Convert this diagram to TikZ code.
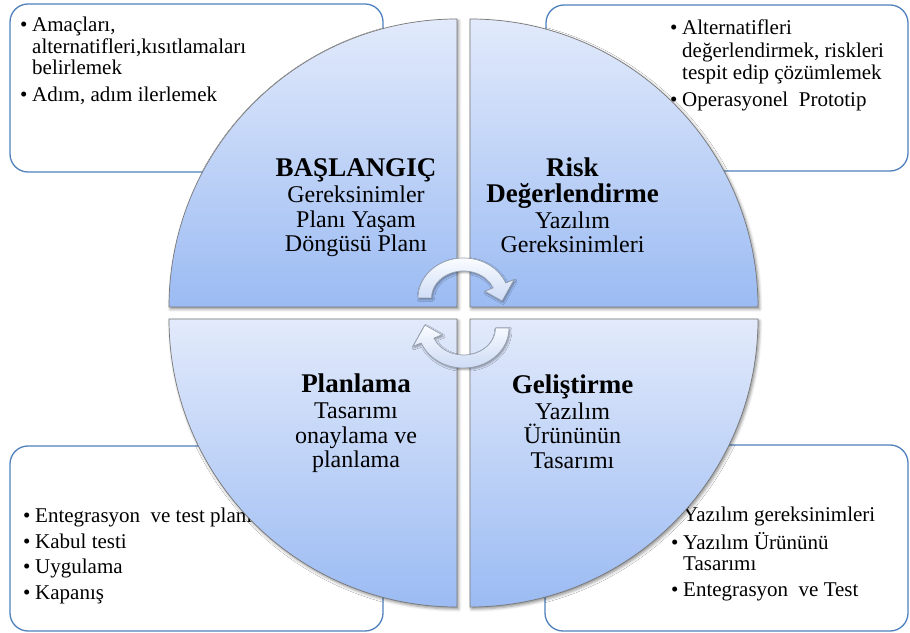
\documentclass[tikz,border=0pt]{standalone}
\usepackage{fontspec}
\setmainfont{Liberation Serif}
\usetikzlibrary{shadows.blur}

\definecolor{boxline}{RGB}{79,129,189}
\definecolor{quadtop}{RGB}{226,234,251}
\definecolor{quadbot}{RGB}{155,187,243}
\definecolor{quadedge}{RGB}{120,120,120}
\definecolor{arrowtop}{RGB}{250,252,255}
\definecolor{arrowbot}{RGB}{205,219,245}
\definecolor{arrowedge}{RGB}{150,160,175}

% bullet and hanging indent for the note lists
\newcommand\itm{\makebox[12pt][l]{•}}
\newcommand\cnt{\hspace*{12pt}}
% bold heading inside a quadrant
\newcommand\qhead[1]{{\fontsize{27}{27}\selectfont\bfseries #1}}

% multi-line nodes are placed by the baseline of their last line
\tikzset{
  notebox/.style={draw=boxline, line width=1.3pt, rounded corners=18pt, fill=white},
  notes/.style={anchor=base west, align=left, inner sep=0pt},
  quadrant/.style={top color=quadtop, bottom color=quadbot, draw=quadedge, line width=0.7pt,
    blur shadow={shadow xshift=1.5pt, shadow yshift=-2pt, shadow blur radius=3pt, shadow opacity=45}},
  qtext/.style={anchor=base, align=center, inner sep=0pt, font=\fontsize{24}{24.6}\selectfont},
  cyclearrow/.style={top color=arrowtop, bottom color=arrowbot, draw=arrowedge, line width=0.7pt,
    blur shadow={shadow xshift=1pt, shadow yshift=-1.5pt, shadow blur radius=2pt, shadow opacity=40}},
}

\begin{document}
\begin{tikzpicture}[x=1pt,y=1pt]
\useasboundingbox (0,0) rectangle (910,632);

% note boxes behind the circle
\draw[notebox] (10,460) rectangle (383,628);
\draw[notebox] (546,461) rectangle (908,627);
\draw[notebox] (10,1) rectangle (383,186);
\draw[notebox] (545,1) rectangle (908,187);

\node[notes, font=\fontsize{21}{21.7}\selectfont] (notetl) at (20,530.3)
  {\itm Amaçları,\\ \cnt alternatifleri,kısıtlamaları\\ \cnt belirlemek\\[5pt] \itm Adım, adım ilerlemek};
\node[notes, font=\fontsize{21}{22.8}\selectfont] (notetr) at (670,525.3)
  {\itm Alternatifleri\\ \cnt değerlendirmek, riskleri\\ \cnt tespit edip çözümlemek\\[4pt] \itm Operasyonel\ \ Prototip};
\node[notes, font=\fontsize{21}{25.5}\selectfont] (notebl) at (23,33)
  {\itm Entegrasyon\ \ ve\ test planı\\ \itm Kabul testi\\ \itm Uygulama\\ \itm Kapanış};
\node[notes, font=\fontsize{21}{21}\selectfont] (notebr) at (671,35.3)
  {\itm Yazılım gereksinimleri\\[5.3pt] \itm Yazılım Ürününü\\ \cnt Tasarımı\\[5.7pt] \itm Entegrasyon\ \ ve\ Test};

% the four quadrants of the cycle
\path[quadrant] (457,325) -- ++(-288,0) arc[start angle=180, end angle=90, radius=288pt] -- cycle;
\path[quadrant] (470,325) -- ++(0,288) arc[start angle=90, end angle=0, radius=288pt] -- cycle;
\path[quadrant] (457,313) -- ++(-288,0) arc[start angle=180, end angle=270, radius=288pt] -- cycle;
\path[quadrant] (470,313) -- ++(0,-288) arc[start angle=270, end angle=360, radius=288pt] -- cycle;

\node[qtext] (qtl) at (356,380)
  {\qhead{BAŞLANGIÇ}\\[1.5pt] Gereksinimler\\ Planı Yaşam\\ Döngüsü Planı};
\node[qtext] (qtr) at (572.5,379)
  {\qhead{Risk}\\[1pt] \qhead{Değerlendirme}\\[1.5pt] Yazılım\\ Gereksinimleri};
\node[qtext] (qbl) at (356,164.3)
  {\qhead{Planlama}\\[1.5pt] Tasarımı\\ onaylama ve\\ planlama};
\node[qtext] (qbr) at (572.5,163.5)
  {\qhead{Geliştirme}\\[1.5pt] Yazılım\\ Ürününün\\ Tasarımı};

% curved arrows in the middle
\coordinate (topc) at (463.5,334);
\coordinate (botc) at (463.5,304);
\begin{scope}[shift={(topc)}]
  \path[cyclearrow] (180:45.5 and 40)
    arc[start angle=180, end angle=22, x radius=45.5pt, y radius=40pt]
    -- (22:54.5 and 49) -- (-5:38.75 and 33.5) -- (22:23 and 18) -- (22:32 and 27)
    arc[start angle=22, end angle=180, x radius=32pt, y radius=27pt] -- cycle;
\end{scope}
\begin{scope}[shift={(botc)}]
  \path[cyclearrow] (0:45.5 and 40)
    arc[start angle=0, end angle=-158, x radius=45.5pt, y radius=40pt]
    -- (-158:54.5 and 49) -- (175:38.75 and 33.5) -- (-158:23 and 18) -- (-158:32 and 27)
    arc[start angle=-158, end angle=0, x radius=32pt, y radius=27pt] -- cycle;
\end{scope}
\end{tikzpicture}
\end{document}
